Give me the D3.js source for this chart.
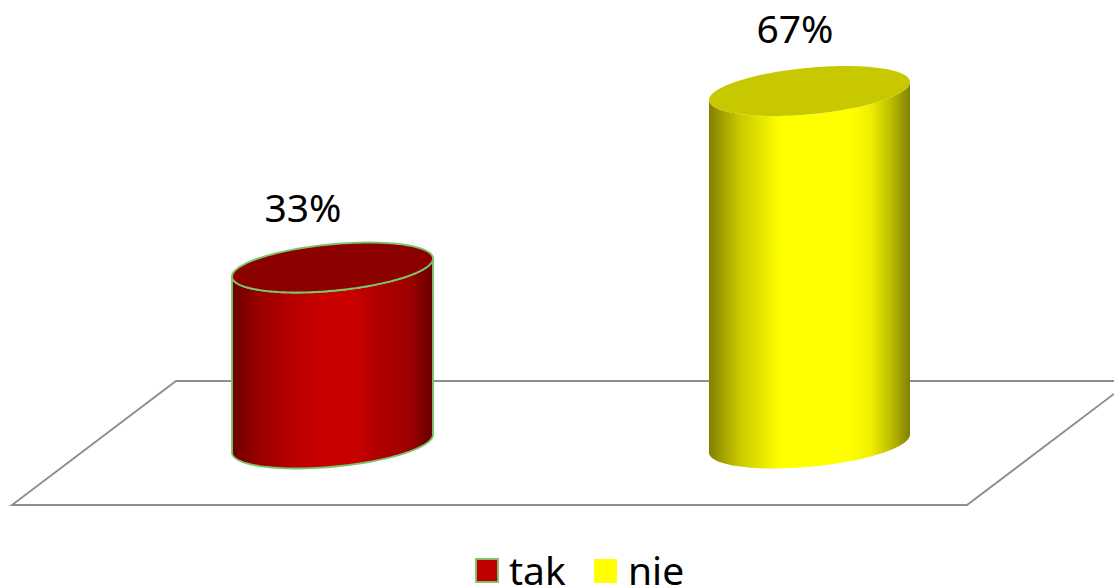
<!DOCTYPE html>
<html>
<head>
<meta charset="utf-8">
<script src="https://cdn.jsdelivr.net/npm/d3@7"></script>
<style>
html,body{margin:0;padding:0;background:#fff;overflow:hidden}
svg{display:block}
text{font-family:"Noto Sans",sans-serif;fill:#000}
</style>
</head>
<body>
<svg id="c" width="1114" height="588"></svg>
<script>
const categories = ["tak", "nie"];
const values = [33.3, 66.7];
const valueLabels = ["33%", "67%"];
const bodyStops = [
  [["0%","#6c0000"],["14%","#9c0000"],["30%","#b80000"],["45%","#c80000"],["62%","#c80000"],["72%","#b00000"],["88%","#a00000"],["100%","#640000"]],
  [["0%","#808000"],["15%","#c8c800"],["30%","#f0f000"],["36%","#ffff00"],["70%","#ffff00"],["80%","#f0f000"],["90%","#c0c000"],["100%","#808000"]]
];
const topColors = ["#8c0000", "#c8c800"];
const swatchColors = ["#c00000", "#ffff00"];
const strokeColors = ["#7cc46c", "none"];

const svg = d3.select("#c");
const x = d3.scalePoint().domain(categories).range([332.5, 809.5]);
const y = d3.scaleLinear().domain([0, 66.7]).range([443.5, 91]);
const rx = 100.5, ry = 23.3, shear = -0.0896;

const defs = svg.append("defs");
categories.forEach((c, i) => {
  const g = defs.append("linearGradient").attr("id", "g" + i).attr("x1", 0).attr("x2", 1).attr("y1", 0).attr("y2", 0);
  bodyStops[i].forEach(s => g.append("stop").attr("offset", s[0]).attr("stop-color", s[1]));
});

// floor
const floorX = d3.scaleLinear().domain([0, 1]).range([12, 967]);
const floorY = d3.scaleLinear().domain([0, 1]).range([505, 381]);
const skew = 164;
const floor = d3.line().x(d => floorX(d[0]) + d[1] * skew).y(d => floorY(d[1]));
svg.append("path")
  .attr("d", floor([[0,0],[1,0],[1,1],[0,1]]) + "Z")
  .attr("fill", "#fff").attr("stroke", "#8e8e8e").attr("stroke-width", 1.9);

// a tilted ellipse point for parameter t around centre (cx, cy)
const pt = (cx, cy, t) => [cx + rx * Math.cos(t), cy + ry * Math.sin(t) + shear * rx * Math.cos(t)];
const steps = d3.range(0, 121).map(k => k / 120);
const line = d3.line();

categories.forEach((c, i) => {
  const cx = x(c), top = y(values[i]), base = y(0);
  const lower = steps.map(k => pt(cx, base, k * Math.PI));      // right -> bottom -> left
  const upper = steps.map(k => pt(cx, top, Math.PI - k * Math.PI)); // left -> lower front -> right
  const stroke = strokeColors[i], sw = stroke === "none" ? 0 : 1.9;
  svg.append("path").attr("d", line(lower.concat(upper)) + "Z")
    .attr("fill", `url(#g${i})`).attr("stroke", stroke).attr("stroke-width", sw);
  const rim = d3.range(0, 241).map(k => pt(cx, top, k / 240 * 2 * Math.PI));
  svg.append("path").attr("d", line(rim) + "Z")
    .attr("fill", topColors[i]).attr("stroke", stroke).attr("stroke-width", sw);
  svg.append("text").attr("x", cx - 29.5 + (i ? 15 : 0)).attr("y", top - (i ? 48.5 : 45.5))
    .attr("text-anchor", "middle").attr("font-size", 39).text(valueLabels[i]);
});

// legend
const legendX = [476, 594], legendText = [509, 628];
categories.forEach((c, i) => {
  svg.append("rect").attr("x", legendX[i]).attr("y", 559).attr("width", i ? 23 : 22).attr("height", i ? 24 : 23)
    .attr("fill", swatchColors[i]).attr("stroke", strokeColors[i]).attr("stroke-width", strokeColors[i] === "none" ? 0 : 1.9);
  svg.append("text").attr("x", legendText[i]).attr("y", 584.5).attr("font-size", 39).text(c);
});
</script>
</body>
</html>
